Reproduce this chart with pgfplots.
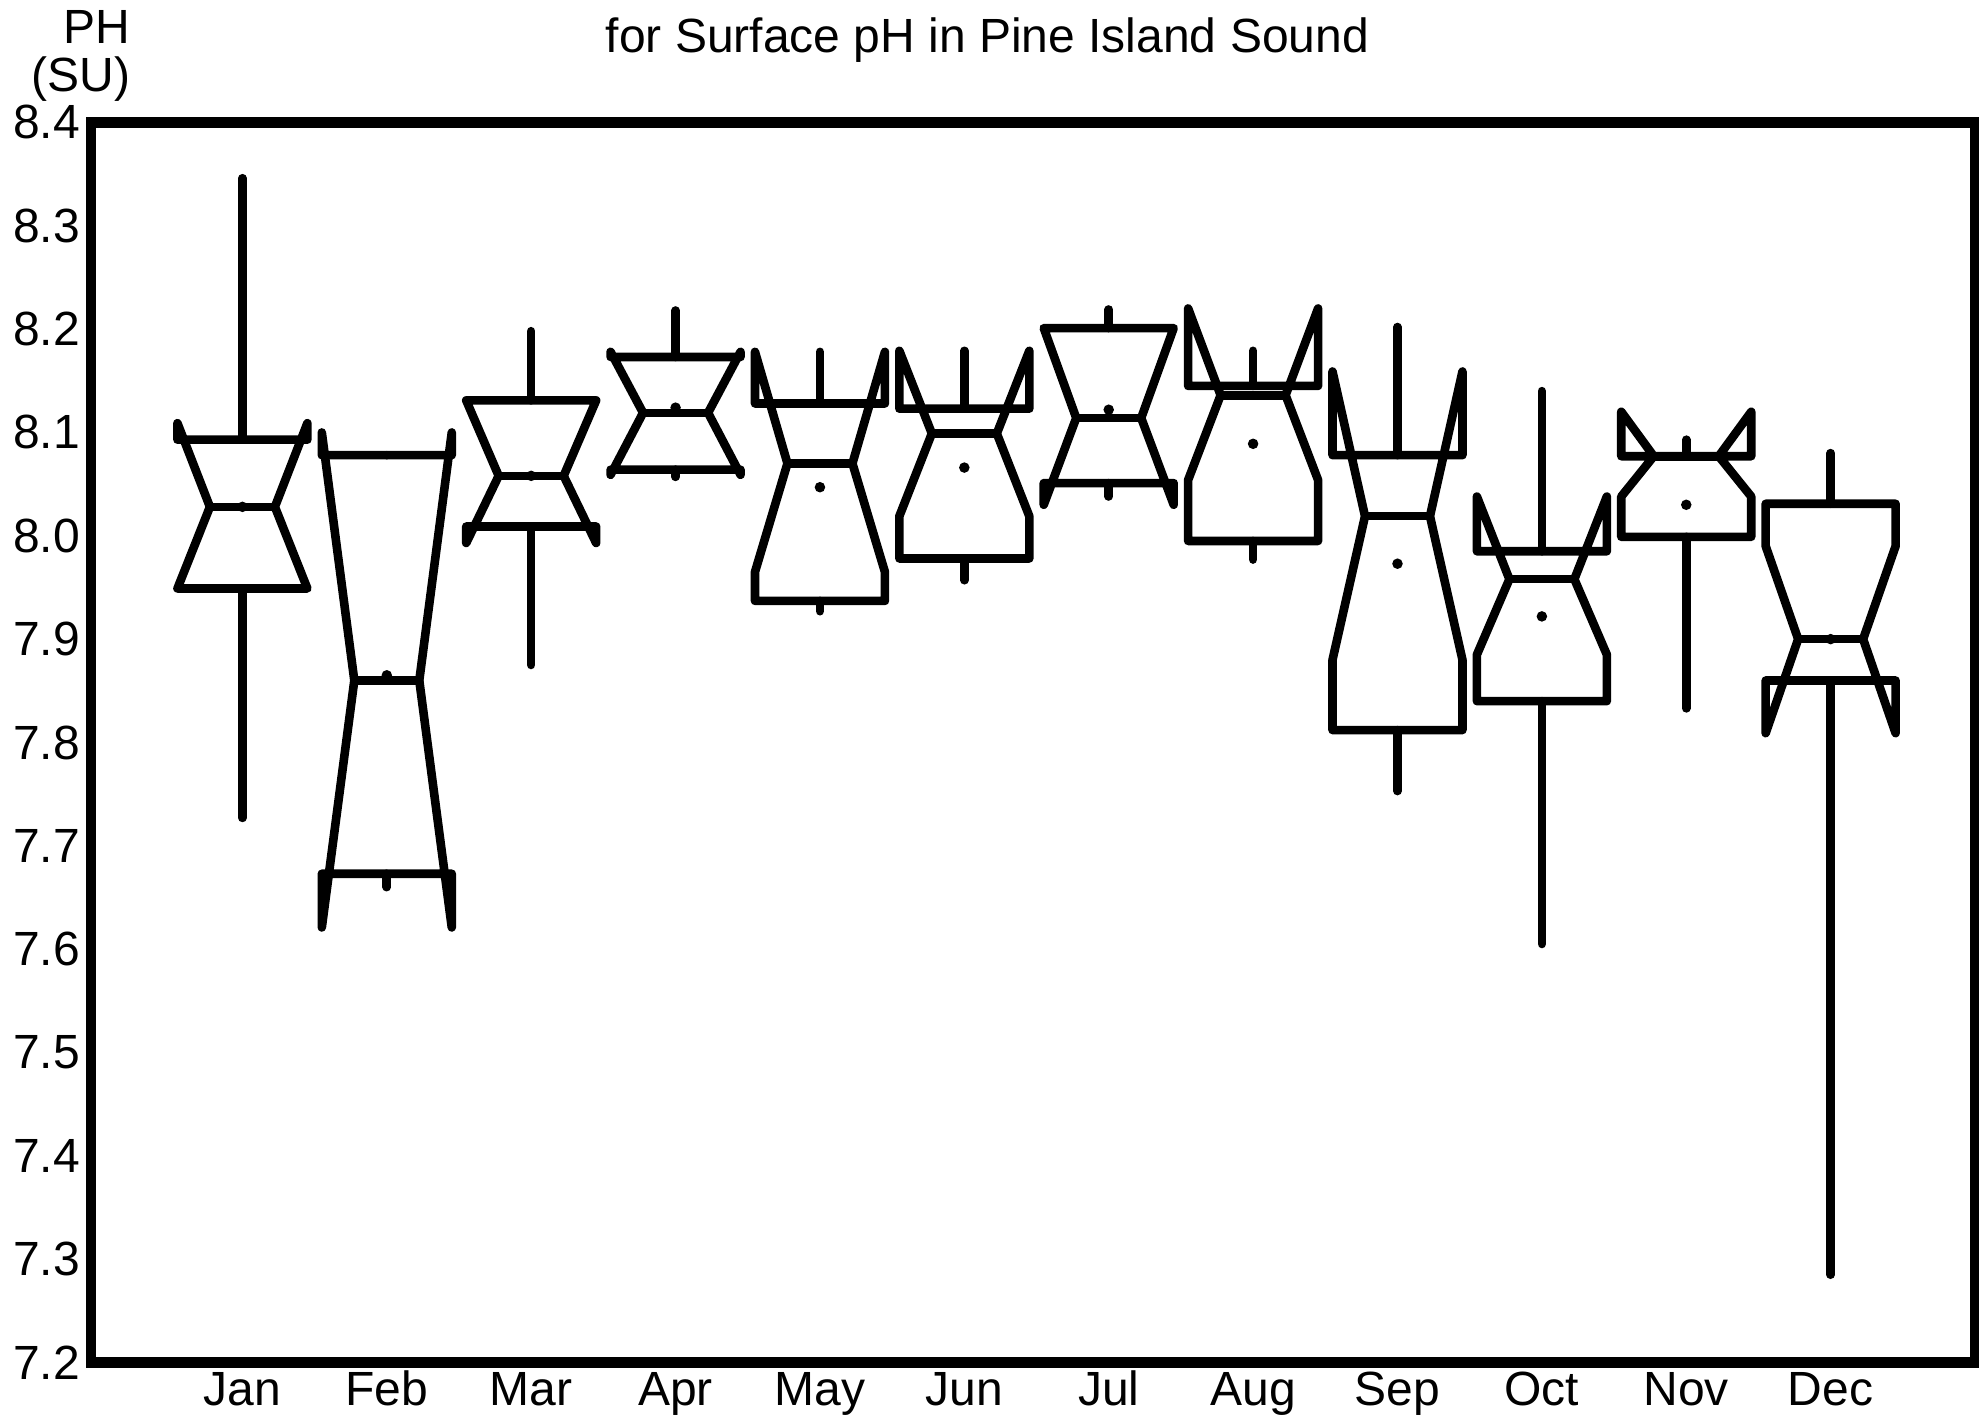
\documentclass[border=0pt]{standalone}
\usepackage{fontspec}
\setmainfont{Liberation Sans}
\usepackage{pgfplots}
\usepackage{pgfplotstable}
\pgfplotsset{compat=1.18}
\usetikzlibrary{calc}

% notched box stats per month: q1, notch low, median, notch high, q3, whisker ends, mean
\pgfplotstableread{
m  q1    nl    med   nh    q3    lo    hi    mean
1  7.949 7.949 8.028 8.109 8.093 7.727 8.346 8.028
2  7.673 7.621 7.860 8.100 8.078 7.660 8.078 7.865
3  8.009 7.993 8.058 8.131 8.131 7.875 8.198 8.058
4  8.064 8.059 8.119 8.178 8.173 8.057 8.218 8.124
5  7.937 7.965 8.070 8.178 8.128 7.927 8.178 8.047
6  7.978 8.019 8.099 8.179 8.123 7.957 8.179 8.066
7  8.051 8.030 8.114 8.201 8.201 8.038 8.219 8.122
8  7.995 8.054 8.136 8.220 8.145 7.977 8.179 8.089
9  7.812 7.880 8.019 8.159 8.078 7.753 8.202 7.973
10 7.840 7.885 7.958 8.038 7.985 7.605 8.140 7.922
11 7.999 8.038 8.077 8.120 8.077 7.833 8.093 8.030
12 7.860 7.809 7.900 7.990 8.031 7.285 8.080 7.900
}\phdata

\newcommand\fnt{\fontsize{12}{12}\selectfont}

\begin{document}
\begin{tikzpicture}
\begin{axis}[
  name=ax,
  scale only axis, width=471pt, height=310pt,
  xmin=-0.05, xmax=13, ymin=7.2, ymax=8.4,
  xtick={1,...,12},
  xticklabels={Jan,Feb,Mar,Apr,May,Jun,Jul,Aug,Sep,Oct,Nov,Dec},
  ytick={7.2,7.3,7.4,7.5,7.6,7.7,7.8,7.9,8.0,8.1,8.2,8.3,8.4},
  /pgf/number format/assume math mode=true,
  yticklabel style={/pgf/number format/fixed, /pgf/number format/fixed zerofill,
    /pgf/number format/precision=1},
  major tick length=0pt,
  xticklabel style={anchor=base, inner sep=0pt, yshift=-10.8pt, font=\fnt},
  yticklabel style={anchor=east, inner sep=0pt, xshift=-2.5pt, font=\fnt},
  axis line style={line width=2.6pt},
  boxline/.style={black, line width=2.15pt, line join=round, line cap=round, mark=none},
]
\pgfplotsforeachungrouped \i in {0,...,11}{%
  \pgfplotstablegetelem{\i}{m}\of\phdata \let\vX\pgfplotsretval
  \pgfplotstablegetelem{\i}{q1}\of\phdata \let\vQa\pgfplotsretval
  \pgfplotstablegetelem{\i}{nl}\of\phdata \let\vNl\pgfplotsretval
  \pgfplotstablegetelem{\i}{med}\of\phdata \let\vMd\pgfplotsretval
  \pgfplotstablegetelem{\i}{nh}\of\phdata \let\vNh\pgfplotsretval
  \pgfplotstablegetelem{\i}{q3}\of\phdata \let\vQc\pgfplotsretval
  \pgfplotstablegetelem{\i}{lo}\of\phdata \let\vLo\pgfplotsretval
  \pgfplotstablegetelem{\i}{hi}\of\phdata \let\vHi\pgfplotsretval
  \pgfmathsetmacro\xa{\vX-0.45}\pgfmathsetmacro\xb{\vX-0.225}%
  \pgfmathsetmacro\xc{\vX+0.225}\pgfmathsetmacro\xd{\vX+0.45}%
  \edef\doplot{%
    \noexpand\addplot[boxline] coordinates {(\xa,\vQa) (\xa,\vNl) (\xb,\vMd) (\xa,\vNh) (\xa,\vQc)
      (\xd,\vQc) (\xd,\vNh) (\xc,\vMd) (\xd,\vNl) (\xd,\vQa) (\xa,\vQa)};
    \noexpand\addplot[boxline] coordinates {(\xb,\vMd) (\xc,\vMd)};
    \noexpand\addplot[boxline] coordinates {(\vX,\vQc) (\vX,\vHi)};
    \noexpand\addplot[boxline] coordinates {(\vX,\vQa) (\vX,\vLo)};
  }\doplot
}
\addplot[only marks, mark=*, mark size=1.1pt, black] table[x=m, y=mean]{\phdata};
\end{axis}
\node[font=\fnt] at ($(ax.north west)+(224.1pt,20.6pt)$) {for Surface pH in Pine Island Sound};
\node[font=\fnt, align=right, anchor=east, inner sep=0pt] at ($(ax.north west)+(10.1pt,16.6pt)$) {PH\\(SU)};
\pgfresetboundingbox
\path ($(ax.south west)+(-22.7pt,-13.3pt)$) rectangle ($(ax.north east)+(1pt,30.6pt)$);
\end{tikzpicture}
\end{document}
